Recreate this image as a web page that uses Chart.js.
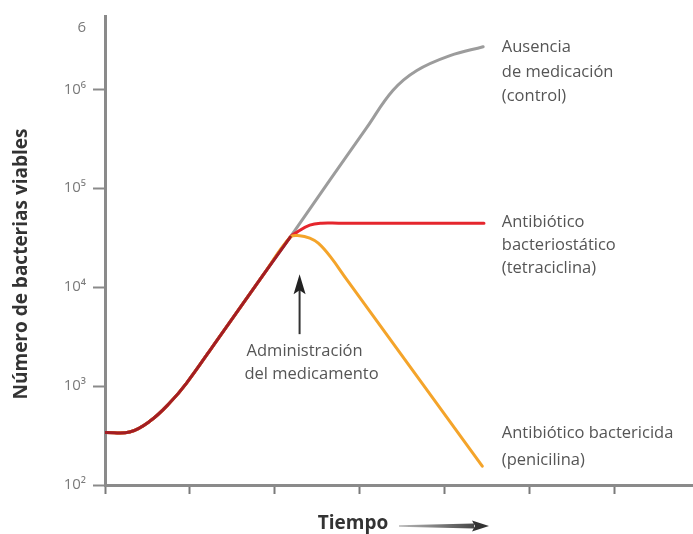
<!DOCTYPE html>
<html>
<head>
<meta charset="utf-8">
<script src="https://cdn.jsdelivr.net/npm/chart.js@4/dist/chart.umd.min.js"></script>
<style>
  html, body { margin: 0; padding: 0; background: #fff; }
  #wrap { width: 693px; height: 534px; }
</style>
</head>
<body>
<div id="wrap"><canvas id="c" width="693" height="534"></canvas></div>
<script>
// Tiempo en unidades de marca del eje x; bacterias viables (escala logarítmica)
const tiempoComun = [0, 0.29, 0.53, 0.76, 0.96, 1.32, 1.86, 2.18];
const bacteriasComun = [340, 343, 443, 673, 1072, 2920, 13210, 32000];

const tiempoControl = [2.65, 3.08, 3.39, 3.67, 4.06, 4.45];
const bacteriasControl = [122000, 409000, 977000, 1549000, 2188000, 2692000];

const tiempoTetraciclina = [2.26, 2.41, 2.55, 2.75, 4.46];
const bacteriasTetraciclina = [35980, 42270, 44260, 44260, 44260];

const tiempoPenicilina = [2.29, 2.41, 2.51, 2.65, 2.85, 4.44];
const bacteriasPenicilina = [33110, 31260, 27800, 20420, 11750, 155];

const ticksX = [0, 1, 2, 3, 4, 5, 6];
const ticksY = [100, 1000, 10000, 100000, 1000000, 4170000];
const etiquetasY = ['10²', '10³', '10⁴', '10⁵', '10⁶', '6'];

const tiempoAdministracion = 2.29;

function puntos(ts, vs) { return ts.map((t, i) => ({ x: t, y: vs[i] })); }

const serieComun = puntos(tiempoComun, bacteriasComun);
const serieControl = serieComun.concat(puntos(tiempoControl, bacteriasControl));
const serieTetra = serieComun.concat(puntos(tiempoTetraciclina, bacteriasTetraciclina));
const seriePeni = serieComun.concat(puntos(tiempoPenicilina, bacteriasPenicilina));

const FUENTE = '"Open Sans", "DejaVu Sans", sans-serif';

const anotaciones = {
  id: 'anotaciones',
  afterDraw(chart) {
    const { ctx } = chart;
    const sx = chart.scales.x, sy = chart.scales.y;
    ctx.save();

    // Título del eje y
    ctx.fillStyle = '#333';
    ctx.font = 'bold 19px ' + FUENTE;
    ctx.textAlign = 'center';
    ctx.textBaseline = 'middle';
    ctx.save();
    ctx.translate(22, 264);
    ctx.rotate(-Math.PI / 2);
    ctx.fillText('Número de bacterias viables', 0, 0);
    ctx.restore();

    // Título del eje x con flecha
    ctx.fillText('Tiempo', 353, 524);
    const g = ctx.createLinearGradient(399, 0, 488, 0);
    g.addColorStop(0, '#b8b8b8');
    g.addColorStop(1, '#333');
    ctx.fillStyle = g;
    ctx.beginPath();
    ctx.moveTo(399, 525.2);
    ctx.lineTo(474, 523.6);
    ctx.lineTo(474, 528.4);
    ctx.lineTo(399, 526.8);
    ctx.closePath();
    ctx.fill();
    ctx.fillStyle = '#333';
    ctx.beginPath();
    ctx.moveTo(472, 520.5);
    ctx.lineTo(489, 526);
    ctx.lineTo(472, 531.5);
    ctx.lineTo(475, 526);
    ctx.closePath();
    ctx.fill();

    // Etiquetas de las curvas
    ctx.fillStyle = '#555';
    ctx.font = '16.5px ' + FUENTE;
    ctx.textAlign = 'left';
    const xt = sx.getPixelForValue(4.47) + 17;
    const yc = sy.getPixelForValue(bacteriasControl[bacteriasControl.length - 1]);
    ['Ausencia', 'de medicación', '(control)'].forEach((s, i) => ctx.fillText(s, xt, yc + 1 + i * 24.5));
    const yt = sy.getPixelForValue(bacteriasTetraciclina[bacteriasTetraciclina.length - 1]);
    ['Antibiótico', 'bacteriostático', '(tetraciclina)'].forEach((s, i) => ctx.fillText(s, xt, yt - 1 + i * 23));
    const yp = sy.getPixelForValue(bacteriasPenicilina[bacteriasPenicilina.length - 1]);
    ['Antibiótico bactericida', '(penicilina)'].forEach((s, i) => ctx.fillText(s, xt, yp - 33 + i * 27));

    // Flecha de administración del medicamento
    const xa = sx.getPixelForValue(tiempoAdministracion);
    const ya = sy.getPixelForValue(bacteriasComun[bacteriasComun.length - 1]) + 37;
    ctx.strokeStyle = '#333';
    ctx.lineWidth = 2;
    ctx.beginPath();
    ctx.moveTo(xa, ya + 12);
    ctx.lineTo(xa, ya + 60);
    ctx.stroke();
    ctx.fillStyle = '#222';
    ctx.beginPath();
    ctx.moveTo(xa, ya);
    ctx.lineTo(xa + 6, ya + 20);
    ctx.lineTo(xa, ya + 16);
    ctx.lineTo(xa - 6, ya + 20);
    ctx.closePath();
    ctx.fill();

    ctx.fillStyle = '#555';
    ctx.textAlign = 'center';
    ctx.fillText('Administración', xa + 5, ya + 77);
    ctx.fillText('del medicamento', xa + 12, ya + 100);

    ctx.restore();
  }
};

const comunes = {
  fill: false,
  pointRadius: 0,
  borderWidth: 3,
  tension: 0.4,
  borderCapStyle: 'round',
  borderJoinStyle: 'round'
};

new Chart(document.getElementById('c'), {
  type: 'line',
  data: {
    datasets: [
      Object.assign({ label: 'Ausencia de medicación (control)', data: serieControl, borderColor: '#9c9c9c', order: 4 }, comunes),
      Object.assign({ label: 'Antibiótico bacteriostático (tetraciclina)', data: serieTetra, borderColor: '#e5262d', order: 3 }, comunes),
      Object.assign({ label: 'Antibiótico bactericida (penicilina)', data: seriePeni, borderColor: '#f4a42a', order: 2 }, comunes),
      Object.assign({ label: 'Crecimiento previo', data: serieComun, borderColor: '#a21d24', order: 1 }, comunes)
    ]
  },
  options: {
    responsive: false,
    animation: false,
    devicePixelRatio: 1,
    layout: { padding: { top: 16, right: 0, bottom: 0, left: 0 } },
    plugins: { legend: { display: false }, tooltip: { enabled: false } },
    scales: {
      x: {
        type: 'linear',
        min: 0,
        max: 6.92,
        afterBuildTicks: s => { s.ticks = ticksX.map(v => ({ value: v })); },
        afterFit: s => { s.height = 49; },
        ticks: { callback: () => '', padding: 0 },
        grid: { drawOnChartArea: false, drawTicks: true, tickLength: 9, tickColor: '#7a7a7a', tickWidth: 2 },
        border: { display: true, color: '#8a8a8a', width: 3 }
      },
      y: {
        type: 'logarithmic',
        min: 100,
        max: 5500000,
        afterBuildTicks: s => { s.ticks = ticksY.map(v => ({ value: v })); },
        afterFit: s => { s.width = 105; },
        ticks: {
          autoSkip: false,
          padding: 7,
          color: '#7a7a7a',
          font: { family: FUENTE, size: 15 },
          callback: v => etiquetasY[ticksY.indexOf(v)]
        },
        grid: {
          drawOnChartArea: false,
          drawTicks: true,
          tickLength: 12,
          tickWidth: 2,
          tickColor: c => (c.tick && c.tick.value === ticksY[5]) ? 'rgba(0,0,0,0)' : '#8a8a8a'
        },
        border: { display: true, color: '#8a8a8a', width: 3 }
      }
    }
  },
  plugins: [anotaciones]
});
</script>
</body>
</html>
